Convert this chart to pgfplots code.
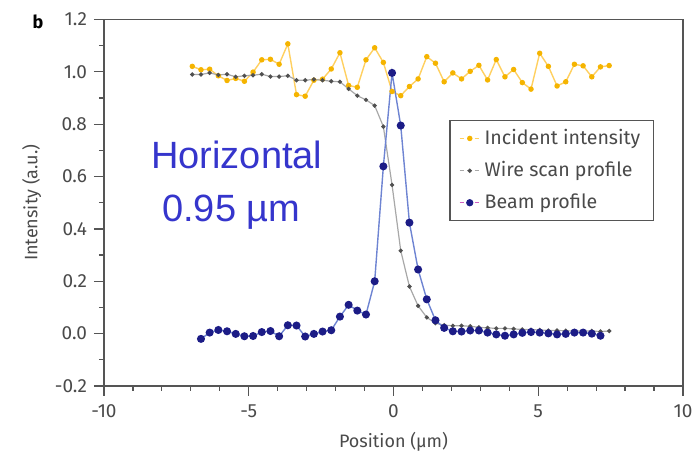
\documentclass[border=0pt]{standalone}
\usepackage{pgfplots}
\pgfplotsset{compat=1.18}
\usepackage{fontspec}
\setmainfont{Fira Sans}
\newfontfamily\arial{Liberation Sans}

\definecolor{incmark}{HTML}{F5B400}
\definecolor{incline}{HTML}{FFD060}
\definecolor{wiremark}{HTML}{505050}
\definecolor{wireline}{HTML}{A8A8A8}
\definecolor{beammark}{HTML}{1C1C86}
\definecolor{beamline}{HTML}{6E84D2}
\definecolor{beamleg}{HTML}{D060C0}
\definecolor{axisgray}{HTML}{555555}
\definecolor{labelgray}{HTML}{4A4A4A}
\definecolor{annot}{HTML}{3535CC}

\begin{document}
\begin{tikzpicture}
% frame the page like the 693x459 reference (1 px = 0.5 pt)
\useasboundingbox (-52pt,-36.5pt) rectangle (294.5pt,193pt);
\begin{axis}[
    scale only axis,
    anchor=south west,
    at={(0pt,0pt)},
    width=289.5pt,
    height=183.25pt,
    xmin=-10, xmax=10,
    ymin=-0.2, ymax=1.2,
    xtick={-10,-5,0,5,10},
    ytick={-0.2,0,0.2,0.4,0.6,0.8,1.0,1.2},
    minor x tick num=4,
    minor y tick num=1,
    tick pos=left,
    tick align=outside,
    major tick length=5pt,
    minor tick length=2.5pt,
    axis line style={axisgray, line width=0.75pt},
    every tick/.style={axisgray, line width=0.6pt},
    yticklabel style={/pgf/number format/.cd, fixed, fixed zerofill, precision=1},
    /pgf/number format/assume math mode=true,
    ticklabel style={font=\fontsize{9.5}{11}\selectfont, text=labelgray},
    xticklabel style={yshift=-1pt},
    xlabel={Position (µm)},
    ylabel={Intensity (a.u.)},
    label style={font=\fontsize{9}{10.5}\selectfont, text=labelgray},
    clip=false,
    legend cell align=left,
    legend style={
        at={(0.596,0.727)}, anchor=north west,
        draw=axisgray, line width=0.75pt,
        font=\fontsize{9.8}{11}\selectfont, text=labelgray,
        row sep=3pt, inner xsep=4.5pt, inner ysep=2.5pt,
    },
    legend image code/.code={
        \draw[mark repeat=2, mark phase=2, #1]
            plot coordinates {(0cm,0cm) (0.18cm,0cm) (0.36cm,0cm)};
    },
]
% Incident intensity
\addplot[forget plot, incline, line width=0.7pt, mark=*, mark size=1pt,
    mark options={fill=incmark, draw=incmark}] coordinates {
(-6.95,1.021) (-6.65,1.008) (-6.35,1.010) (-6.05,0.985) (-5.75,0.967)
(-5.45,0.975) (-5.15,0.964) (-4.85,0.999) (-4.55,1.046) (-4.25,1.048)
(-3.95,1.029) (-3.65,1.107) (-3.35,0.913) (-3.05,0.907) (-2.75,0.968)
(-2.45,0.972) (-2.15,1.011) (-1.85,1.073) (-1.55,0.948) (-1.25,0.941)
(-0.95,1.046) (-0.65,1.092) (-0.35,1.036) (-0.05,0.925) (0.25,0.909)
(0.55,0.944) (0.85,0.973) (1.15,1.058) (1.45,1.033) (1.75,0.962)
(2.05,0.996) (2.35,0.973) (2.65,1.002) (2.95,1.025) (3.25,0.969)
(3.55,1.047) (3.85,0.981) (4.15,1.009) (4.45,0.959) (4.75,0.934)
(5.05,1.071) (5.35,1.021) (5.65,0.946) (5.95,0.962) (6.25,1.029)
(6.55,1.023) (6.85,0.981) (7.15,1.019) (7.45,1.024)
};
% Wire scan profile
\addplot[forget plot, wireline, line width=0.6pt, mark=*, mark size=0.75pt,
    mark options={fill=wiremark, draw=wiremark}] coordinates {
(-6.95,0.990) (-6.65,0.990) (-6.35,0.996) (-6.05,0.988) (-5.75,0.991)
(-5.45,0.981) (-5.15,0.985) (-4.85,0.987) (-4.55,0.991) (-4.25,0.982)
(-3.95,0.982) (-3.65,0.985) (-3.35,0.968) (-3.05,0.968) (-2.75,0.971)
(-2.45,0.968) (-2.15,0.964) (-1.85,0.962) (-1.55,0.935) (-1.25,0.909)
(-0.95,0.893) (-0.65,0.871) (-0.35,0.791) (-0.05,0.568) (0.25,0.317)
(0.55,0.180) (0.85,0.106) (1.15,0.062) (1.45,0.040) (1.75,0.032)
(2.05,0.030) (2.35,0.030) (2.65,0.028) (2.95,0.024) (3.25,0.022)
(3.55,0.020) (3.85,0.020) (4.15,0.018) (4.45,0.016) (4.75,0.015)
(5.05,0.014) (5.35,0.012) (5.65,0.012) (5.95,0.011) (6.25,0.010)
(6.55,0.010) (6.85,0.010) (7.15,0.008) (7.45,0.010)
};
% Beam profile
\addplot[forget plot, beamline, line width=0.7pt, mark=*, mark size=1.65pt,
    mark options={fill=beammark, draw=beammark}] coordinates {
(-6.65,-0.020) (-6.35,0.004) (-6.05,0.014) (-5.75,0.009) (-5.45,-0.001)
(-5.15,-0.010) (-4.85,-0.009) (-4.55,0.006) (-4.25,0.010) (-3.95,-0.010)
(-3.65,0.032) (-3.35,0.031) (-3.05,-0.011) (-2.75,-0.001) (-2.45,0.008)
(-2.15,0.013) (-1.85,0.065) (-1.55,0.110) (-1.25,0.088) (-0.95,0.073)
(-0.65,0.200) (-0.35,0.639) (-0.05,0.996) (0.25,0.795) (0.55,0.424)
(0.85,0.245) (1.15,0.131) (1.45,0.051) (1.75,0.022) (2.05,0.009)
(2.35,0.008) (2.65,0.012) (2.95,0.012) (3.25,0.004) (3.55,-0.003)
(3.85,-0.008) (4.15,-0.003) (4.45,0.003) (4.75,0.006) (5.05,0.004)
(5.35,0.001) (5.65,-0.003) (5.95,-0.001) (6.25,0.004) (6.55,0.004)
(6.85,0.000) (7.15,-0.008)
};
\addlegendimage{incline, dash pattern=on 2.2pt off 1.6pt, line width=0.7pt,
    mark=*, mark size=1pt, mark options={solid, fill=incmark, draw=incmark}}
\addlegendentry{Incident intensity}
\addlegendimage{wireline, dash pattern=on 2.2pt off 1.6pt, line width=0.6pt,
    mark=*, mark size=0.75pt, mark options={solid, fill=wiremark, draw=wiremark}}
\addlegendentry{Wire scan profile}
\addlegendimage{beamleg, dash pattern=on 2.2pt off 1.6pt, line width=0.6pt,
    mark=*, mark size=1.5pt, mark options={solid, fill=beammark, draw=beammark}}
\addlegendentry{Beam profile}

\node[anchor=base west, text=annot, font=\arial\fontsize{19}{22}\selectfont,
    inner sep=0pt] at (axis cs:-8.38,0.63) {Horizontal};
\node[anchor=base west, text=annot, font=\arial\fontsize{19}{22}\selectfont,
    inner sep=0pt] at (axis cs:-8.0,0.43) {0.95 µm};
\node[anchor=center, font=\bfseries\fontsize{9}{10}\selectfont]
    at (rel axis cs:-0.114,0.995) {b};
\end{axis}
\end{tikzpicture}
\end{document}
